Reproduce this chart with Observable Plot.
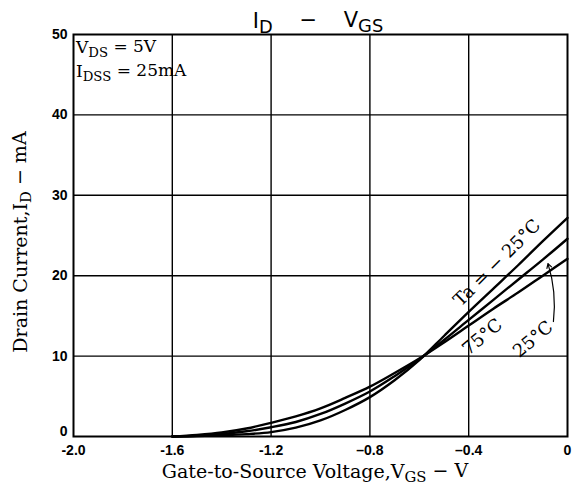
<!DOCTYPE html>
<html><head><meta charset="utf-8">
<script src="https://cdn.jsdelivr.net/npm/d3@7"></script>
<script src="https://cdn.jsdelivr.net/npm/@observablehq/plot@0.6"></script>
<style>body{margin:0;background:#fff}</style>
</head><body><div id="chart"></div>
<script>
const vgs = [-1.6,-1.5,-1.4,-1.3,-1.2,-1.1,-1.0,-0.9,-0.8,-0.7,-0.6,-0.5,-0.4,-0.3,-0.2,-0.1,0];
const idM25 = [0,0.05,0.15,0.3,0.55,1.1,2.0,3.3,4.9,7.0,9.5,12.5,15.5,18.4,21.3,24.3,27.2];
const id25  = [0,0.1,0.3,0.65,1.15,1.8,2.8,4.1,5.6,7.5,9.6,12.0,14.5,17.0,19.5,22.0,24.6];
const id75  = [0,0.2,0.5,1.0,1.7,2.5,3.5,4.8,6.2,7.9,9.7,11.7,13.8,15.9,17.9,20.0,22.1];
const seriesNames = ["-25", "25", "75"];
const xTicks = [-2.0,-1.6,-1.2,-0.8,-0.4,0];
const xTickLabels = ["-2.0","-1.6","-1.2","\u20130.8","\u20130.4","0"];
const yTicks = [0,10,20,30,40,50];
const labelText = ["Ta = \u2212 25\u00b0C", "75\u00b0C", "25\u00b0C"];
const labelV = [-0.285, -0.345, -0.14];
const labelI = [21.6, 12.4, 12.1];
const labelRot = [-45, -40, -40];
const leaderV = [-0.057, -0.079];
const leaderI = [14.3, 21.5];

const rows = [];
[idM25, id25, id75].forEach((arr, k) => arr.forEach((v, i) => rows.push({s: seriesNames[k], x: vgs[i], y: v})));
const labels = labelText.map((t, i) => ({t, x: labelV[i], y: labelI[i], r: labelRot[i]}));

const serif = "'DejaVu Serif', serif";
const svg = Plot.plot({
  width: 574, height: 489,
  marginTop: 34, marginBottom: 53, marginLeft: 73, marginRight: 7,
  style: {fontFamily: "'Liberation Sans', sans-serif", fontSize: "14px", color: "#000", background: "#fff"},
  x: {domain: [-2, 0]},
  y: {domain: [0, 50]},
  marks: [
    Plot.gridX(xTicks.slice(1, -1), {stroke: "#000", strokeOpacity: 1, strokeWidth: 1.4}),
    Plot.gridY(yTicks.slice(1, -1), {stroke: "#000", strokeOpacity: 1, strokeWidth: 1.4}),
    Plot.frame({stroke: "#000", strokeWidth: 2}),
    Plot.axisX(xTicks, {tickSize: 0, tickPadding: 9, label: null, fontWeight: "bold", fontSize: 14,
      tickFormat: (d) => xTickLabels[xTicks.indexOf(d)]}),
    Plot.axisY(yTicks.slice(1), {tickSize: 0, tickPadding: 6, label: null, fontWeight: "bold", fontSize: 14}),
    Plot.axisY(yTicks.slice(0, 1), {tickSize: 0, tickPadding: 6, label: null, fontWeight: "bold", fontSize: 14, dy: -5}),
    Plot.line(rows, {x: "x", y: "y", z: "s", stroke: "#000", strokeWidth: 2.4, curve: "catmull-rom"}),
    Plot.text(labels, {x: "x", y: "y", text: "t", rotate: "r", fontFamily: serif, fontSize: 18, fill: "#000"}),
    Plot.arrow({length: 1}, {x1: () => leaderV[0], y1: () => leaderI[0], x2: () => leaderV[1], y2: () => leaderI[1],
      bend: -12, headLength: 6, stroke: "#000", strokeWidth: 1.2})
  ]
});
document.getElementById("chart").appendChild(svg);

const s = d3.select(svg);
function subText(x, y, parts, opts) {
  const t = s.append("text").attr("x", x).attr("y", y)
    .attr("font-family", opts.family).attr("font-size", opts.size)
    .attr("text-anchor", opts.anchor || "start").attr("fill", "#000");
  if (opts.transform) t.attr("transform", opts.transform);
  let lowered = false;
  parts.forEach(([txt, isSub]) => {
    const ts = t.append("tspan").text(txt);
    if (isSub && !lowered) { ts.attr("dy", "0.3em"); lowered = true; }
    else if (!isSub && lowered) { ts.attr("dy", "-0.3em"); lowered = false; }
    if (isSub) ts.attr("font-size", opts.subSize || "0.78em");
  });
  return t;
}
// title
subText(318, 28, [["I", false], ["D", true], ["    \u2212    V", false], ["GS", true]],
  {family: "'DejaVu Sans', sans-serif", size: 21, anchor: "middle", subSize: "0.85em"});
// conditions
subText(76, 53, [["V", false], ["DS", true], [" = 5V", false]], {family: serif, size: 17});
subText(76, 77, [["I", false], ["DSS", true], [" = 25mA", false]], {family: serif, size: 17});
// x axis title
subText(315, 478, [["Gate-to-Source Voltage,V", false], ["GS", true], [" \u2212 V", false]],
  {family: serif, size: 19, anchor: "middle"});
// y axis title
subText(0, 0, [["Drain Current,I", false], ["D", true], [" \u2212 mA", false]],
  {family: serif, size: 19, anchor: "middle", transform: "translate(27,242) rotate(-90)"});
</script></body></html>
